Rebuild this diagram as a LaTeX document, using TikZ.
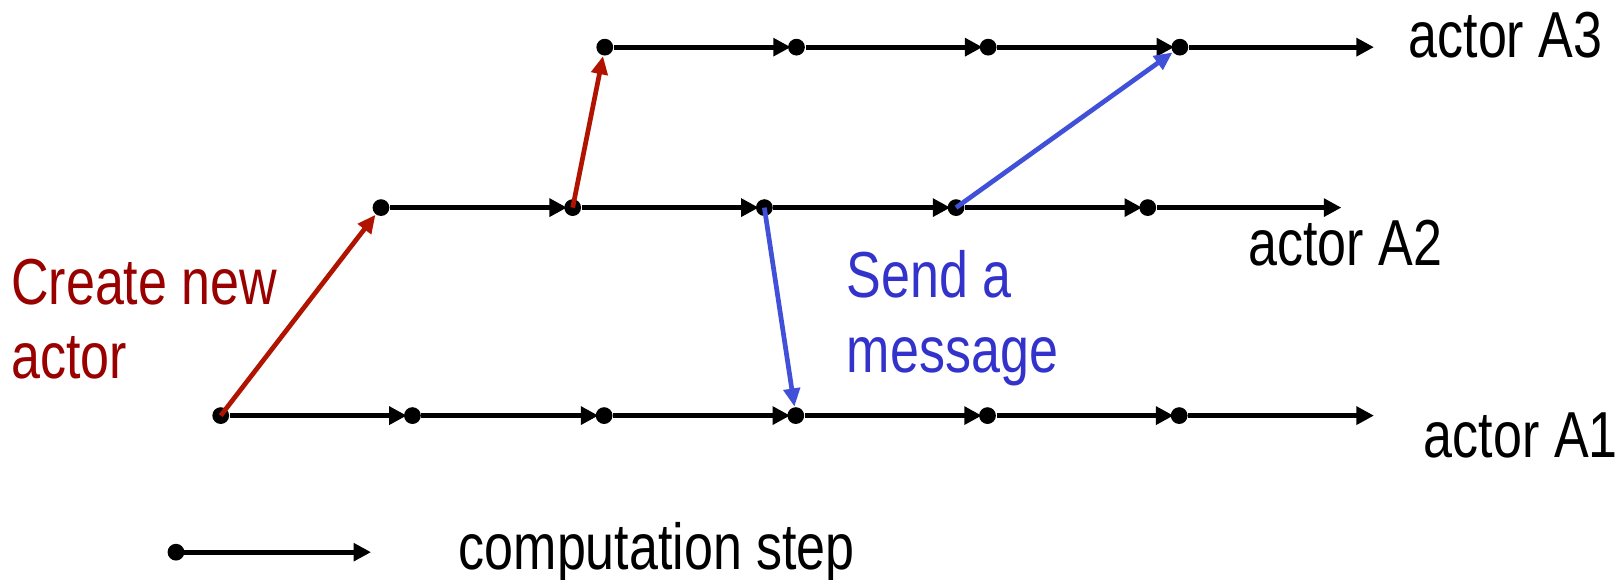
\documentclass[tikz,border=0pt]{standalone}
\usepackage{fontspec}
\setmainfont{Liberation Sans}[FakeStretch=0.8]
\usepackage{tikz}
\usetikzlibrary{arrows.meta}
\definecolor{rouge}{HTML}{B01400}
\definecolor{rougetexte}{HTML}{990000}
\definecolor{bleu}{HTML}{4050D8}
\definecolor{bleutexte}{HTML}{3333CC}

\tikzset{
  point/.style={fill=black, circle, inner sep=0pt, minimum size=0.175cm},
  pas/.style={draw=black, line width=1.5pt, shorten >=-1pt, -{Triangle[length=5.2pt, width=5.2pt]}},
  creation/.style={draw=rouge, line width=1.4pt, -{Triangle[length=5.4pt, width=4.8pt]}},
  message/.style={draw=bleu, line width=1.4pt, -{Triangle[length=5.4pt, width=4.8pt]}},
  texte/.style={font=\fontsize{19.3}{22}\selectfont, inner sep=0pt, anchor=base west}
}

\begin{document}
\begin{tikzpicture}
  \useasboundingbox (0,0) rectangle (16.85,6.05);
  % Acteur A1.
  \node[point] at (2.303,1.714) (a1) {};
  \node[point] at (4.303,1.714) (a2) {};
  \node[point] at (6.303,1.714) (a3) {};
  \node[point] at (8.303,1.714) (a4) {};
  \node[point] at (10.303,1.714) (a5) {};
  \node[point] at (12.303,1.714) (a6) {};
  \coordinate (a7) at (14.30,1.714);
  \path[pas] (a1) -- (a2);
  \path[pas] (a2) -- (a3);
  \path[pas] (a3) -- (a4);
  \path[pas] (a4) -- (a5);
  \path[pas] (a5) -- (a6);
  \path[pas] (a6) -- (a7);
  % Acteur A2.
  \node[point] at (3.975,3.884) (b1) {};
  \node[point] at (5.975,3.884) (b2) {};
  \node[point] at (7.975,3.884) (b3) {};
  \node[point] at (9.975,3.884) (b4) {};
  \node[point] at (11.975,3.884) (b5) {};
  \coordinate (b6) at (13.96,3.884);
  \path[pas] (b1) -- (b2);
  \path[pas] (b2) -- (b3);
  \path[pas] (b3) -- (b4);
  \path[pas] (b4) -- (b5);
  \path[pas] (b5) -- (b6);
  % Acteur A3.
  \node[point] at (6.31,5.558) (c1) {};
  \node[point] at (8.31,5.558) (c2) {};
  \node[point] at (10.31,5.558) (c3) {};
  \node[point] at (12.31,5.558) (c4) {};
  \coordinate (c5) at (14.30,5.558);
  \path[pas] (c1) -- (c2);
  \path[pas] (c2) -- (c3);
  \path[pas] (c3) -- (c4);
  \path[pas] (c4) -- (c5);

  % Creations.
  \path[creation] (a1.center) -- (b1);
  \path[creation] (b2.center) -- (c1);
  % Messages.
  \path[message] (b3.center) -- (a4);
  \path[message] (b4.center) -- (c4);

  % Textes.
  \node[texte, text=rougetexte] at (0.11,2.869) (cree1) {Create new};
  \node[texte, text=rougetexte] at (0.11,2.097) (cree2) {actor};
  \node[texte, text=bleutexte] at (8.83,2.949) (envoi1) {Send a};
  \node[texte, text=bleutexte] at (8.83,2.163) (envoi2) {message};
  \node[texte] at (14.69,5.446) (nomc) {actor A3};
  \node[texte] at (13.02,3.276) (nomb) {actor A2};
  \node[texte] at (14.85,1.273) (noma) {actor A1};

  % Legende.
  \node[point] at (1.836,0.289) (l1) {};
  \coordinate (l2) at (3.836,0.289);
  \path[pas] (l1.center) -- (l2);
  \node[texte] at (4.78,0.104) (legende) {computation step};
\end{tikzpicture}
\end{document}
